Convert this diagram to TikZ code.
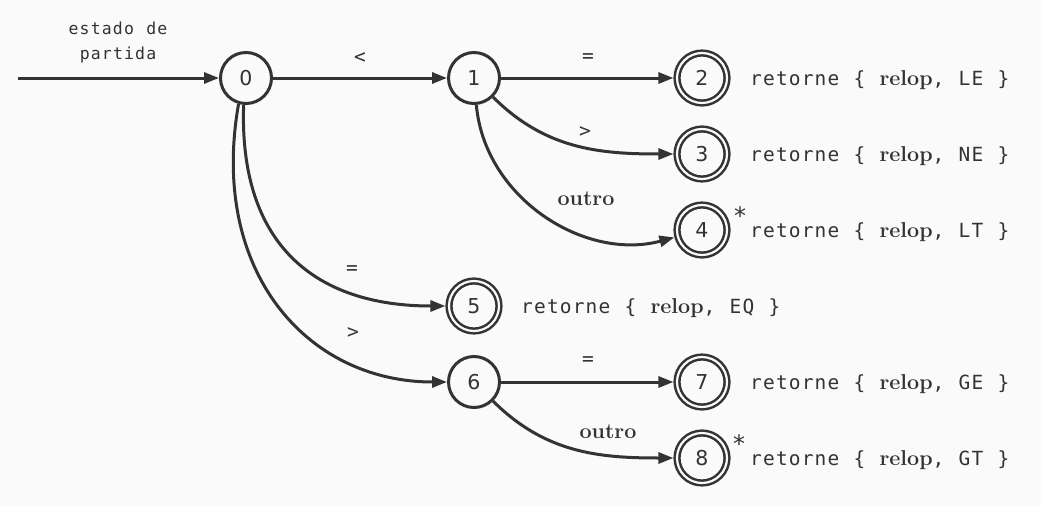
\documentclass[tikz,border=0pt]{standalone}
\usepackage{fontspec}
\usetikzlibrary{arrows.meta}
\definecolor{ink}{HTML}{333333}
\definecolor{bg}{HTML}{FAFAFA}
\newfontfamily\monomain[LetterSpace=6,WordSpace=1.10]{DejaVu Sans Mono}
\newfontfamily\monosmall[LetterSpace=7,WordSpace=1.12]{DejaVu Sans Mono}
\newfontfamily\monostar{DejaVu Sans Mono}
\newfontfamily\digitfam{DejaVu Sans}
\newcommand\txtfont{\monomain\fontsize{19.5}{23}\selectfont}
\newcommand\smallfont{\monosmall\fontsize{16.5}{20}\selectfont}
\newcommand\digfont{\digitfam\fontsize{20.5}{24}\selectfont}
\newcommand\starfont{\monostar\fontsize{24}{28}\selectfont}
\newcommand\serb[1]{{\rmfamily\bfseries\fontsize{21.5}{25}\selectfont #1}}
\begin{document}
\begin{tikzpicture}[x=1pt,y=1pt,
  st/.style={circle,draw=ink,line width=3pt,minimum size=51pt,inner sep=0pt,outer sep=1.5pt,font=\digfont,text=ink},
  acc/.style={circle,draw=ink,line width=2.5pt,double=bg,double distance=2.2pt,minimum size=50pt,inner sep=0pt,outer sep=3.6pt,font=\digfont,text=ink},
  tr/.style={draw=ink,line width=3pt,-{Triangle[length=15pt,width=11pt]}},
  lab/.style={font=\txtfont,text=ink,inner sep=0pt},
  olab/.style={text=ink,inner sep=0pt},
  starlab/.style={font=\starfont,text=ink,inner sep=0pt,anchor=base},
  ret/.style={font=\txtfont,text=ink,inner sep=0pt,anchor=base west},
  startlab/.style={font=\smallfont,text=ink,inner sep=0pt,anchor=base}]
\fill[bg] (0,0) rectangle (1041,-506);
\useasboundingbox (0,0) rectangle (1041,-506);

% states
\node[st]  (s0) at (246,-78) {0};
\node[st]  (s1) at (474,-78) {1};
\node[acc] (s2) at (702,-78) {2};
\node[acc] (s3) at (702,-154) {3};
\node[acc] (s4) at (702,-230) {4};
\node[acc] (s5) at (474,-306) {5};
\node[st]  (s6) at (474,-382) {6};
\node[acc] (s7) at (702,-382) {7};
\node[acc] (s8) at (702,-458) {8};

% start
\coordinate (start) at (18,-78);
\node[startlab] (sl1) at (118,-34) {estado de};
\node[startlab] (sl2) at (118,-59) {partida};
\draw[tr] (start) -- (s0);

% transitions
\draw[tr] (s0) -- (s1);
\draw[tr] (s1) -- (s2);
\draw[tr] (s1) to[out=-45,in=180] (s3);
\draw[tr] (s1) to[out=-85,in=195] (s4);
\draw[tr] (s0.-95) .. controls +(-92:140) and +(180:130) .. (s5.west);
\draw[tr] (s0.-106) .. controls +(-100:170) and +(180:140) .. (s6.west);
\draw[tr] (s6) -- (s7);
\draw[tr] (s6) to[out=-45,in=180] (s8);

% edge labels
\node[lab] (l01) at (360,-58) {<};
\node[lab] (l12) at (588,-58) {=};
\node[lab] (l13) at (585,-132) {>};
\node[olab] (l14) at (586,-198.5) {\serb{outro}};
\node[lab] (l05) at (352,-270) {=};
\node[lab] (l06) at (353,-333) {>};
\node[lab] (l67) at (588,-361) {=};
\node[olab] (l68) at (608,-431.5) {\serb{outro}};

% stars
\node[starlab] (star4) at (740,-224) {*};
\node[starlab] (star8) at (739,-452) {*};

% return actions
\node[ret] (r2) at (750,-85)  {retorne \{ \serb{relop}, LE \}};
\node[ret] (r3) at (750,-161) {retorne \{ \serb{relop}, NE \}};
\node[ret] (r4) at (750,-237) {retorne \{ \serb{relop}, LT \}};
\node[ret] (r5) at (521,-313) {retorne \{ \serb{relop}, EQ \}};
\node[ret] (r7) at (750,-389) {retorne \{ \serb{relop}, GE \}};
\node[ret] (r8) at (750,-465) {retorne \{ \serb{relop}, GT \}};
\end{tikzpicture}
\end{document}
